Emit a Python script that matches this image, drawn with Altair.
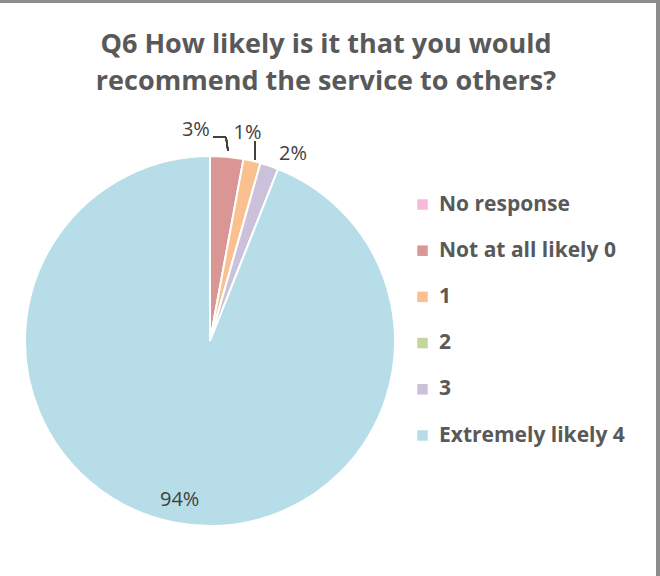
import altair as alt
import pandas as pd

categories = ["No response", "Not at all likely 0", "1", "2", "3", "Extremely likely 4"]
shares = [0.0, 2.9, 1.5, 0.0, 1.6, 94.0]
labels = ["", "3%", "1%", "", "2%", "94%"]
colors = ["#F9B7D9", "#D99694", "#FAC090", "#C3D69B", "#CCC1DA", "#B7DEE8"]

df = pd.DataFrame({"cat": categories, "share": shares, "label": labels,
                   "order": list(range(len(categories)))})

FONT = "Open Sans"
CX, CY, R = 210, 341, 185

color = alt.Color("cat:N", scale=alt.Scale(domain=categories, range=colors),
                  legend=alt.Legend(title=None, orient="none", legendX=412, legendY=194,
                                    symbolType="square", symbolSize=110, symbolStrokeWidth=0,
                                    labelFont=FONT, labelFontSize=21, labelFontWeight="bold",
                                    labelColor="#595959", rowPadding=24.2, labelOffset=6,
                                    labelLimit=300))

base = alt.Chart(df)

pie = base.mark_arc(stroke="white", strokeWidth=2, radius=R).encode(
    theta=alt.Theta("share:Q", stack=True),
    order=alt.Order("order:Q"),
    color=color,
    x=alt.value(CX), y=alt.value(CY),
)

# data labels placed from the stacked slice angles
texts = base.transform_joinaggregate(total="sum(share)").transform_window(
    cum="sum(share)", sort=[alt.SortField("order")]
).transform_calculate(
    mid="(datum.cum - datum.share/2) / datum.total * 2 * PI"
).transform_filter(alt.datum.label != "").transform_calculate(
    rr="datum.cat == 'Extremely likely 4' ? 162 : (datum.cat == '3' ? 205 : 211)",
    ang="datum.cat == 'Not at all likely 0' ? -0.067 : (datum.cat == '1' ? 0.179 : (datum.cat == '3' ? 0.417 : datum.mid))"
).transform_calculate(
    px=f"{CX} + datum.rr * sin(datum.ang)",
    py=f"{CY} - datum.rr * cos(datum.ang)"
).mark_text(font=FONT, fontSize=20, color="#404040").encode(
    x=alt.X("px:Q", scale=None), y=alt.Y("py:Q", scale=None), text="label:N"
)

leader = alt.layer(
    alt.Chart(df).mark_rule(color="#404040", strokeWidth=1.5).encode(
        x=alt.value(213), x2=alt.value(226), y=alt.value(137), y2=alt.value(137)),
    alt.Chart(df).mark_rule(color="#404040", strokeWidth=1.5).encode(
        x=alt.value(226), x2=alt.value(228), y=alt.value(137), y2=alt.value(151)),
    alt.Chart(df).mark_rule(color="#404040", strokeWidth=1.5).encode(
        x=alt.value(255), x2=alt.value(255), y=alt.value(141), y2=alt.value(160)),
)

border = alt.layer(
    alt.Chart(df).mark_rule(color="#8C8C8C", strokeWidth=3).encode(
        x=alt.value(0), x2=alt.value(660), y=alt.value(1.5), y2=alt.value(1.5)),
    alt.Chart(df).mark_rule(color="#8C8C8C", strokeWidth=4).encode(
        x=alt.value(658), x2=alt.value(658), y=alt.value(0), y2=alt.value(576)),
)

chart = alt.layer(pie, texts, leader, border).properties(
    width=660, height=576,
    padding=0,
    background="white",
    autosize=alt.AutoSizeParams(type="none"),
    title=alt.TitleParams(
        ["Q6 How likely is it that you would", "recommend the service to others?"],
        font=FONT, fontSize=27, fontWeight="bold", color="#595959",
        anchor="middle", lineHeight=37, offset=0, dy=119, dx=-4, baseline="alphabetic",
    ),
).configure_view(stroke=None)

chart.save("out.html", embed_options={"renderer": "svg", "actions": False})
